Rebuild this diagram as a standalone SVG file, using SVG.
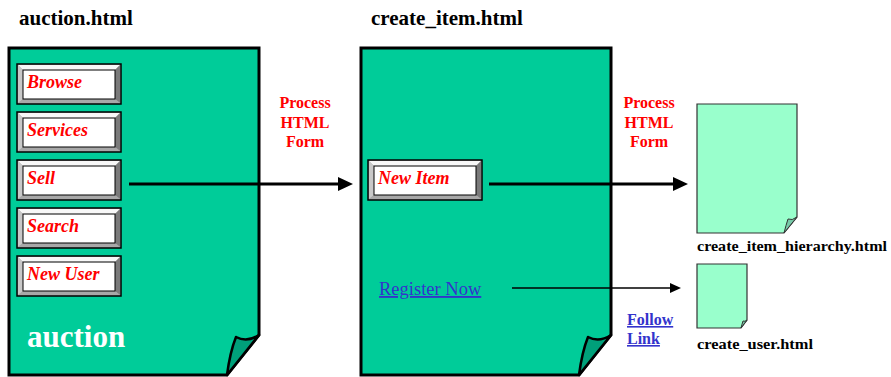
<svg xmlns="http://www.w3.org/2000/svg" width="891" height="377" viewBox="0 0 891 377">
<style>
.page{fill:#00cc99;stroke:#000;stroke-width:3;stroke-linejoin:miter}
.flap{fill:#00a07a;stroke:#000;stroke-width:2.5;stroke-linejoin:round}
.spage{fill:#99ffcc;stroke:#333;stroke-width:1.2}
.sflap{fill:#77c9a8;stroke:#333;stroke-width:1}
.title{font-weight:bold;font-size:21px;fill:#000}
.btnt{font-weight:bold;font-style:italic;font-size:18px;fill:#ff0000}
.proc{font-weight:bold;font-size:16px;fill:#ff0000;text-anchor:middle}
.fl{font-weight:bold;font-size:16px;fill:#3333cc;text-decoration:underline}
.reg{font-size:18.5px;fill:#3333cc;text-decoration:underline}
.small{font-weight:bold;font-size:14.5px;fill:#000}
.big{font-weight:bold;font-size:31px;fill:#fff}
.outer{fill:#a8a8a8;stroke:#000;stroke-width:1.5}
.bt{fill:#f8f8f8}.bl{fill:#c8c8c8}.br{fill:#7a7a7a}.bb{fill:#a8a8a8}
.inner{fill:#fff;stroke:#000;stroke-width:1}
.thick{stroke:#000;stroke-width:3;fill:none}
.thin{stroke:#000;stroke-width:1.5;fill:none}
</style>
<defs>
<g id="btn104">
<rect class="outer" x="0" y="0" width="104" height="40"/>
<polygon class="bt" points="1,1 103,1 98,6 6,6"/>
<polygon class="bl" points="1,1 6,6 6,35 1,39"/>
<polygon class="br" points="103,1 103,39 98,35 98,6"/>
<polygon class="bb" points="1,39 103,39 98,35 6,35"/>
<rect class="inner" x="6" y="6" width="92" height="29"/>
</g>
<g id="btn114">
<rect class="outer" x="0" y="0" width="114" height="40"/>
<polygon class="bt" points="1,1 113,1 108,6 6,6"/>
<polygon class="bl" points="1,1 6,6 6,35 1,39"/>
<polygon class="br" points="113,1 113,39 108,35 108,6"/>
<polygon class="bb" points="1,39 113,39 108,35 6,35"/>
<rect class="inner" x="6" y="6" width="102" height="29"/>
</g>
</defs>
<rect width="891" height="377" fill="#fff"/>

<g id="auction-page">
<text class="title" style="font-family:'Liberation Serif',serif" x="19" y="25">auction.html</text>
<path class="page" d="M9,48 H259 V335 L227,375 H9 Z"/>
<path class="flap" d="M227,375 Q230,352 236,337 Q247,343 259,335 Z"/>
<text class="big" style="font-family:'Liberation Serif',serif" x="27" y="347">auction</text>
</g>
<g id="btn-browse"><use href="#btn104" x="17" y="64"/><text class="btnt" style="font-family:'Liberation Serif',serif" x="27" y="88">Browse</text></g>
<g id="btn-services"><use href="#btn104" x="17" y="112"/><text class="btnt" style="font-family:'Liberation Serif',serif" x="27" y="136">Services</text></g>
<g id="btn-sell"><use href="#btn104" x="17" y="160"/><text class="btnt" style="font-family:'Liberation Serif',serif" x="27" y="184">Sell</text></g>
<g id="btn-search"><use href="#btn104" x="17" y="208"/><text class="btnt" style="font-family:'Liberation Serif',serif" x="27" y="232">Search</text></g>
<g id="btn-newuser"><use href="#btn104" x="17" y="256"/><text class="btnt" style="font-family:'Liberation Serif',serif" x="27" y="280">New User</text></g>

<g id="create-item-page">
<text class="title" style="font-family:'Liberation Serif',serif" x="371" y="25">create_item.html</text>
<path class="page" d="M361,48 H611 V335 L579,375 H361 Z"/>
<path class="flap" d="M579,375 Q582,352 588,337 Q599,343 611,335 Z"/>
</g>
<g id="btn-newitem"><use href="#btn114" x="368" y="160"/><text class="btnt" style="font-family:'Liberation Serif',serif" x="378" y="184">New Item</text></g>
<g id="register-link"><text class="reg" style="font-family:'Liberation Serif',serif" x="379" y="295">Register Now</text></g>

<g id="create-item-hierarchy">
<path class="spage" d="M697,104 H797 V217 L784,233 H697 Z"/>
<path class="sflap" d="M784,233 Q786,225 788,219 Q792,221 797,217 Z"/>
<text class="small" style="font-family:'Liberation Serif',serif" x="697" y="251" textLength="190" lengthAdjust="spacingAndGlyphs">create_item_hierarchy.html</text>
</g>
<g id="create-user">
<path class="spage" d="M697,264 H747 V320 L741,328 H697 Z"/>
<path class="sflap" d="M741,328 Q742,324 743,321 Q745,322 747,320 Z"/>
<text class="small" style="font-family:'Liberation Serif',serif" x="697" y="349" textLength="116" lengthAdjust="spacingAndGlyphs">create_user.html</text>
</g>

<g id="connectors">
<line class="thick" x1="129" y1="184" x2="339" y2="184"/>
<polygon points="353,184 338,177 338,191" fill="#000"/>
<line class="thick" x1="489" y1="184" x2="674" y2="184"/>
<polygon points="688,184 673,177 673,191" fill="#000"/>
<line class="thin" x1="512" y1="288" x2="671" y2="288"/>
<polygon points="681,288 670,283 670,293" fill="#000"/>
<text class="proc" style="font-family:'Liberation Serif',serif" x="305" y="108">Process</text>
<text class="proc" style="font-family:'Liberation Serif',serif" x="305" y="128">HTML</text>
<text class="proc" style="font-family:'Liberation Serif',serif" x="305" y="147">Form</text>
<text class="proc" style="font-family:'Liberation Serif',serif" x="649" y="108">Process</text>
<text class="proc" style="font-family:'Liberation Serif',serif" x="649" y="128">HTML</text>
<text class="proc" style="font-family:'Liberation Serif',serif" x="649" y="147">Form</text>
<text class="fl" style="font-family:'Liberation Serif',serif" x="627" y="325">Follow</text>
<text class="fl" style="font-family:'Liberation Serif',serif" x="627" y="344">Link</text>
</g>
</svg>
